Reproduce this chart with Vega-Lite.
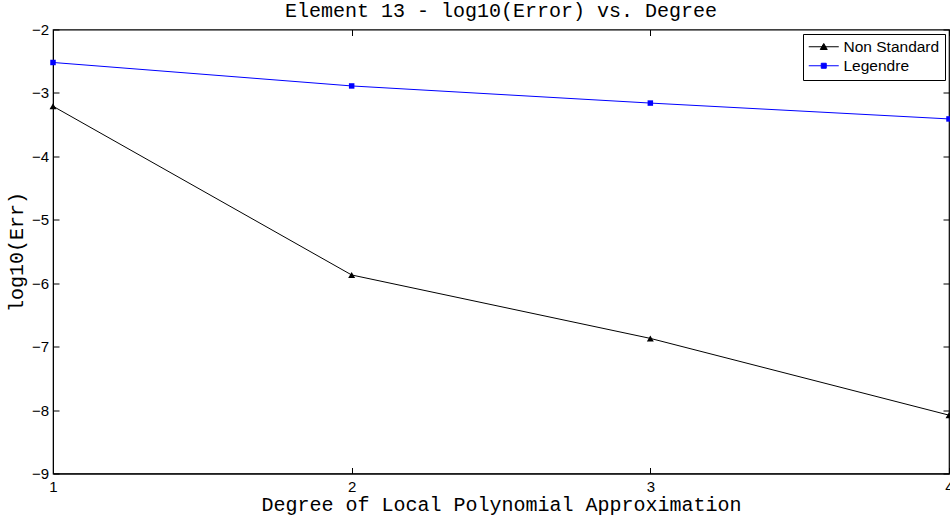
{
  "$schema": "https://vega.github.io/schema/vega-lite/v6.json",
  "width": 896,
  "height": 444,
  "autosize": {"type": "none"},
  "padding": {"left": 53, "top": 29.5, "right": 1, "bottom": 41.5},
  "background": "white",
  "title": {
    "text": "Element 13 - log10(Error) vs. Degree",
    "font": "Liberation Mono",
    "fontSize": 20,
    "fontWeight": "normal",
    "color": "black",
    "anchor": "middle",
    "baseline": "alphabetic",
    "offset": -14
  },
  "config": {
    "view": {"stroke": "black", "strokeWidth": 1.2},
    "axis": {
      "grid": false,
      "domainColor": "black",
      "tickColor": "black",
      "labelColor": "black",
      "labelFont": "Liberation Sans",
      "labelFontSize": 15,
      "labelFlush": false,
      "titleFont": "Liberation Mono",
      "titleFontSize": 20,
      "titleFontWeight": "normal",
      "titleColor": "black",
      "tickSize": -6
    }
  },
  "data": {
    "values": [
      {"degree": 1, "log10err": -3.21, "method": "Non Standard"},
      {"degree": 2, "log10err": -5.87, "method": "Non Standard"},
      {"degree": 3, "log10err": -6.87, "method": "Non Standard"},
      {"degree": 4, "log10err": -8.08, "method": "Non Standard"},
      {"degree": 1, "log10err": -2.52, "method": "Legendre"},
      {"degree": 2, "log10err": -2.89, "method": "Legendre"},
      {"degree": 3, "log10err": -3.16, "method": "Legendre"},
      {"degree": 4, "log10err": -3.41, "method": "Legendre"}
    ]
  },
  "layer": [
    {
      "mark": {"type": "line", "strokeWidth": 1},
      "encoding": {
        "x": {
          "field": "degree", "type": "quantitative",
          "scale": {"domain": [1, 4], "nice": false, "zero": false},
          "axis": {"orient": "bottom", "values": [1, 2, 3, 4], "format": "d", "labelPadding": 12, "title": "Degree of Local Polynomial Approximation", "titlePadding": 0}
        },
        "y": {
          "field": "log10err", "type": "quantitative",
          "scale": {"domain": [-9, -2], "nice": false, "zero": false},
          "axis": {"orient": "left", "values": [-9, -8, -7, -6, -5, -4, -3, -2], "format": "d", "labelPadding": 10.5, "title": "log10(Err)", "titlePadding": 5}
        },
        "color": {
          "field": "method", "type": "nominal",
          "scale": {"domain": ["Non Standard", "Legendre"], "range": ["black", "blue"]},
          "legend": {
            "title": null,
            "orient": "none",
            "legendX": 750,
            "legendY": 4.5,
            "padding": 5,
            "strokeColor": "black",
            "fillColor": "white",
            "cornerRadius": 0,
            "labelFont": "Liberation Sans",
            "labelFontSize": 15.5,
            "labelColor": "black",
            "labelOffset": 12,
            "symbolOffset": 8,
            "rowPadding": 2,
            "symbolSize": 100,
            "symbolStrokeWidth": 1,
            "symbolOpacity": 1,
            "symbolType": {"expr": "datum.value === 'Non Standard' ? 'M-3,0H3M0,-0.65L0.7,0.55L-0.7,0.55Z' : 'M-3,0H3M-0.5,-0.5H0.5V0.5H-0.5Z'"}
          }
        }
      }
    },
    {
      "mark": {"type": "point", "filled": true, "opacity": 1},
      "encoding": {
        "x": {
          "field": "degree", "type": "quantitative",
          "axis": {"orient": "top", "values": [1, 2, 3, 4], "labels": false, "title": null, "domain": false}
        },
        "y": {
          "field": "log10err", "type": "quantitative",
          "axis": {"orient": "right", "values": [-9, -8, -7, -6, -5, -4, -3, -2], "labels": false, "title": null, "domain": false}
        },
        "color": {"field": "method", "type": "nominal"},
        "shape": {
          "condition": {"test": "datum.method === 'Non Standard'", "value": "triangle-up"},
          "value": "square"
        },
        "size": {
          "condition": {"test": "datum.method === 'Non Standard'", "value": 48},
          "value": 30
        }
      }
    }
  ],
  "resolve": {"axis": {"x": "independent", "y": "independent"}}
}
